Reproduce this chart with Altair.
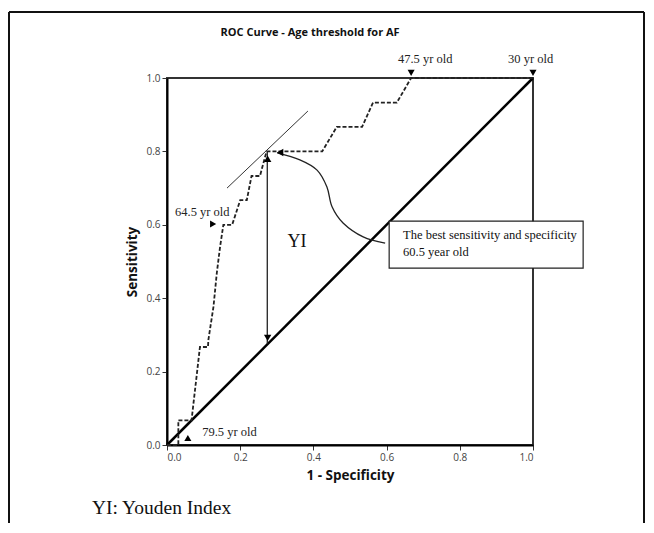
import altair as alt
import pandas as pd

# ---- ROC curve (1 - specificity, sensitivity) ----
roc_fpr = [0.0, 0.031, 0.031, 0.067, 0.090, 0.112, 0.113, 0.127, 0.136, 0.145, 0.154,
           0.178, 0.200, 0.218, 0.231, 0.254, 0.272, 0.424, 0.464, 0.533, 0.563, 0.628,
           0.667, 1.0]
roc_tpr = [0.0, 0.0, 0.067, 0.067, 0.267, 0.267, 0.286, 0.377, 0.468, 0.540, 0.600,
           0.600, 0.667, 0.667, 0.733, 0.733, 0.800, 0.800, 0.867, 0.867, 0.933, 0.933,
           1.0, 1.0]

# reference (chance) diagonal
diag_x = [0.0, 1.0]
diag_y = [0.0, 1.0]

# tangent at the best cut-off
tangent_x = [0.164, 0.385]
tangent_y = [0.700, 0.910]

# Youden index arrow
yi_x = [0.274, 0.274]
yi_y = [0.800, 0.276]

# curved pointer from the text box to the best point
curve_x = [0.596, 0.536, 0.481, 0.451, 0.437, 0.410, 0.363, 0.301]
curve_y = [0.550, 0.567, 0.605, 0.649, 0.703, 0.749, 0.777, 0.796]

# arrow heads
head_x = [0.275, 0.275, 0.309]
head_y = [0.780, 0.292, 0.797]
head_shape = ["triangle-up", "triangle-down", "triangle-left"]

# threshold markers
marker_text = ["47.5 yr old", "30 yr old", "64.5 yr old", "79.5 yr old"]
marker_x = [0.667, 1.0, 0.126, 0.057]
marker_y = [1.014, 1.014, 0.602, 0.019]
marker_shape = ["triangle-down", "triangle-down", "triangle-right", "triangle-up"]
label_x = [0.631, 0.932, 0.022, 0.096]
label_y = [1.052, 1.052, 0.635, 0.035]

# annotation box
box_x = [0.607]
box_x2 = [1.137]
box_y = [0.482]
box_y2 = [0.610]
box_lines = ["The best sensitivity and specificity", "60.5 year old"]
box_text_x = [0.645, 0.645]
box_text_y = [0.572, 0.526]

yi_label = ["YI"]
yi_label_x = [0.355]
yi_label_y = [0.553]

footnote = ["YI: Youden Index"]
footnote_x = [-0.205]
footnote_y = [-0.172]

title_text = ["ROC Curve - Age threshold for AF"]
title_x = [0.391]
title_y = [1.123]

SANS = "Open Sans"
SERIF = "Liberation Serif"

xs = alt.Scale(domain=[0, 1], nice=False, zero=False)
ys = alt.Scale(domain=[0, 1], nice=False, zero=False)
ticks = [0.0, 0.2, 0.4, 0.6, 0.8, 1.0]

roc_df = pd.DataFrame({"fpr": roc_fpr, "tpr": roc_tpr, "i": range(len(roc_fpr))})

base_x = alt.X("x:Q", scale=xs, title="1 - Specificity",
               axis=alt.Axis(values=ticks, format=".1f"))
base_y = alt.Y("y:Q", scale=ys, title="Sensitivity",
               axis=alt.Axis(values=ticks, format=".1f"))

roc = alt.Chart(roc_df).mark_line(
    color="#222", strokeWidth=1.8, strokeDash=[4, 2]
).encode(
    x=alt.X("fpr:Q", scale=xs, title="1 - Specificity",
            axis=alt.Axis(values=ticks, format=".1f")),
    y=alt.Y("tpr:Q", scale=ys, title="Sensitivity",
            axis=alt.Axis(values=ticks, format=".1f")),
    order="i:Q",
)

diag = alt.Chart(pd.DataFrame({"x": diag_x, "y": diag_y})).mark_line(
    color="black", strokeWidth=2.5
).encode(x=base_x, y=base_y)

tangent = alt.Chart(pd.DataFrame({"x": tangent_x, "y": tangent_y})).mark_line(
    color="#333", strokeWidth=1
).encode(x=base_x, y=base_y)

yi_arrow = alt.Chart(pd.DataFrame({"x": yi_x, "y": yi_y})).mark_line(
    color="#222", strokeWidth=1.3
).encode(x=base_x, y=base_y)

curve = alt.Chart(pd.DataFrame({"x": curve_x, "y": curve_y, "i": range(len(curve_x))})).mark_line(
    color="#222", strokeWidth=1.3, interpolate="cardinal"
).encode(x=base_x, y=base_y, order="i:Q")

heads = alt.Chart(pd.DataFrame({"x": head_x, "y": head_y, "s": head_shape})).mark_point(
    filled=True, color="black", size=55, opacity=1
).encode(x=base_x, y=base_y, shape=alt.Shape("s:N", scale=None, legend=None))

markers = alt.Chart(pd.DataFrame({"x": marker_x, "y": marker_y, "s": marker_shape})).mark_point(
    filled=True, color="black", size=50, opacity=1
).encode(x=base_x, y=base_y, shape=alt.Shape("s:N", scale=None, legend=None))

marker_labels = alt.Chart(pd.DataFrame({"x": label_x, "y": label_y, "t": marker_text})).mark_text(
    font=SERIF, fontSize=12.5, align="left", baseline="middle", color="#222"
).encode(x=base_x, y=base_y, text="t:N")

box = alt.Chart(pd.DataFrame({"x": box_x, "x2": box_x2, "y": box_y, "y2": box_y2})).mark_rect(
    fill="white", stroke="#222", strokeWidth=1.2
).encode(x=alt.X("x:Q", scale=xs), x2="x2:Q", y=alt.Y("y:Q", scale=ys), y2="y2:Q")

box_text = alt.Chart(pd.DataFrame({"x": box_text_x, "y": box_text_y, "t": box_lines})).mark_text(
    font=SERIF, fontSize=12.5, align="left", baseline="middle", color="#111"
).encode(x=base_x, y=base_y, text="t:N")

yi_text = alt.Chart(pd.DataFrame({"x": yi_label_x, "y": yi_label_y, "t": yi_label})).mark_text(
    font=SERIF, fontSize=18, align="center", baseline="middle", color="#111"
).encode(x=base_x, y=base_y, text="t:N")

foot = alt.Chart(pd.DataFrame({"x": footnote_x, "y": footnote_y, "t": footnote})).mark_text(
    font=SERIF, fontSize=19.5, align="left", baseline="middle", color="#111"
).encode(x=base_x, y=base_y, text="t:N")

title = alt.Chart(pd.DataFrame({"x": title_x, "y": title_y, "t": title_text})).mark_text(
    font=SANS, fontSize=11, fontWeight="bold", align="center", baseline="middle", color="#111"
).encode(x=base_x, y=base_y, text="t:N")

# outer figure frame (decoration)
frame_top = alt.Chart(pd.DataFrame({"a": [0]})).mark_rule(color="#111", strokeWidth=2).encode(
    x=alt.value(-158), x2=alt.value(477), y=alt.value(-66))
frame_left = alt.Chart(pd.DataFrame({"a": [0]})).mark_rule(color="#111", strokeWidth=2).encode(
    x=alt.value(-158), y=alt.value(-66), y2=alt.value(470))
frame_right = alt.Chart(pd.DataFrame({"a": [0]})).mark_rule(color="#111", strokeWidth=2).encode(
    x=alt.value(477), y=alt.value(-66), y2=alt.value(470))

chart = alt.layer(
    frame_top, frame_left, frame_right,
    diag, roc, tangent, yi_arrow, curve, box, box_text, heads, markers,
    marker_labels, yi_text, foot, title,
).properties(
    width=366, height=367,
    autosize=alt.AutoSizeParams(type="none"),
    padding={"left": 159, "top": 70, "right": 112, "bottom": 78},
).configure_view(
    stroke="#333", strokeWidth=2
).configure_axis(
    grid=False,
    domainColor="black", domainWidth=2,
    tickColor="#333", tickSize=5, tickWidth=1,
    labelFont=SANS, labelFontSize=10, labelColor="#444", labelPadding=2,
    titleFont=SANS, titleFontSize=13.5, titleFontWeight="bold", titleColor="#111",
).configure_axisX(
    titlePadding=6,
).configure_axisY(
    titlePadding=6,
)

chart.save("out.html", embed_options={"renderer": "svg", "actions": False})
